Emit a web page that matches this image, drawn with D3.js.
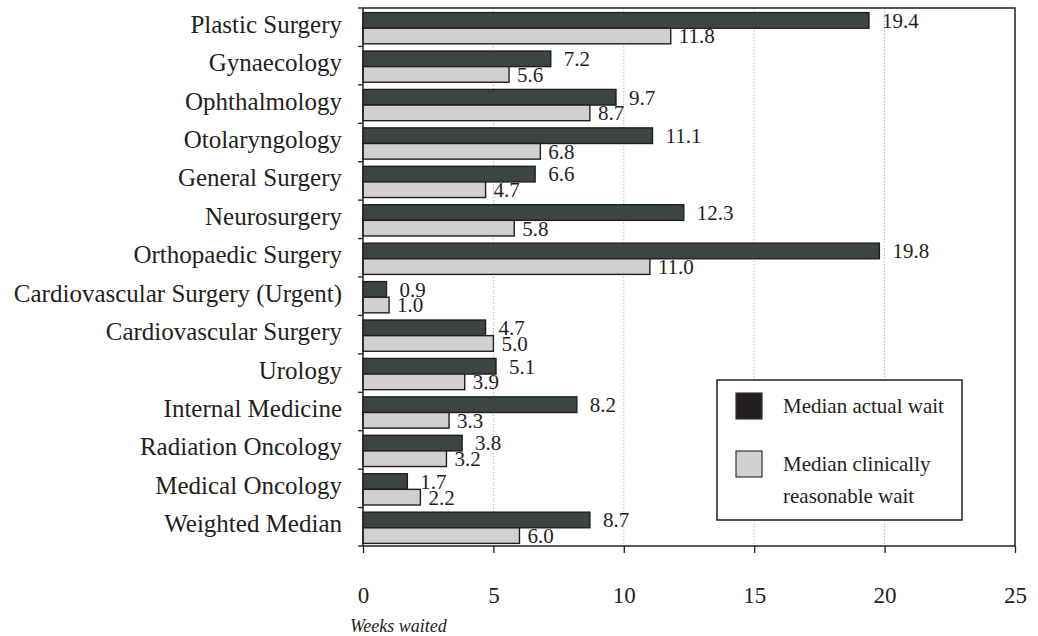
<!DOCTYPE html>
<html>
<head>
<meta charset="utf-8">
<script src="https://cdn.jsdelivr.net/npm/d3@7"></script>
<style>
    html, body { margin: 0; padding: 0; background: #fff; }
    #viz-wait-times { width: 1038px; height: 636px; }
    text { font-family: "Liberation Serif", "Times New Roman", serif; fill: #231f20; }
</style>
</head>
<body>
<div id="viz-wait-times"></div>
<script>
// Median wait by specialty, weeks (top to bottom)
const specialties = [
    'Plastic Surgery',
    'Gynaecology',
    'Ophthalmology',
    'Otolaryngology',
    'General Surgery',
    'Neurosurgery',
    'Orthopaedic Surgery',
    'Cardiovascular Surgery (Urgent)',
    'Cardiovascular Surgery',
    'Urology',
    'Internal Medicine',
    'Radiation Oncology',
    'Medical Oncology',
    'Weighted Median'
];
const actualWait = [19.4, 7.2, 9.7, 11.1, 6.6, 12.3, 19.8, 0.9, 4.7, 5.1, 8.2, 3.8, 1.7, 8.7];
const reasonableWait = [11.8, 5.6, 8.7, 6.8, 4.7, 5.8, 11.0, 1.0, 5.0, 3.9, 3.3, 3.2, 2.2, 6.0];
const xTicks = [0, 5, 10, 15, 20, 25];
const seriesLabels = ['Median actual wait', ['Median clinically', 'reasonable wait']];

function createWaitChart() {
    const container = d3.select('#viz-wait-times');
    container.selectAll('*').remove();

    const W = 1038, H = 636;
    const margin = { top: 8, right: 23, bottom: 90, left: 363 };
    const width = W - margin.left - margin.right;
    const height = H - margin.top - margin.bottom;

    const svg = container.append('svg')
        .attr('width', W)
        .attr('height', H);

    const g = svg.append('g')
        .attr('transform', `translate(${margin.left},${margin.top})`);

    const series = [
        { key: 'actual', values: actualWait, fill: '#3d4543', legendFill: '#231f20', dx: 13 },
        { key: 'reasonable', values: reasonableWait, fill: '#d0d0d0', legendFill: '#d0d0d0', dx: 8 }
    ];

    const xScale = d3.scaleLinear().domain([0, 25]).range([0, width]);
    const yScale = d3.scaleBand().domain(specialties).range([0, height]).padding(0);
    const ySub = d3.scaleBand()
        .domain(series.map(s => s.key))
        .range([4.6, yScale.bandwidth() - 2.6]);

    // dotted gridlines (behind bars)
    g.append('g')
        .selectAll('line')
        .data(xTicks.slice(1, -1))
        .enter()
        .append('line')
        .attr('x1', d => xScale(d)).attr('x2', d => xScale(d))
        .attr('y1', 0).attr('y2', height)
        .attr('stroke', '#a8a8a8')
        .attr('stroke-width', 1)
        .attr('stroke-dasharray', '1.2,2');

    // bars
    series.forEach(s => {
        g.append('g')
            .selectAll('rect')
            .data(specialties)
            .enter()
            .append('rect')
            .attr('x', 0)
            .attr('y', d => yScale(d) + ySub(s.key))
            .attr('width', (d, i) => xScale(s.values[i]))
            .attr('height', ySub.bandwidth())
            .attr('fill', s.fill)
            .attr('stroke', '#1f1f1f')
            .attr('stroke-width', 1.4);
    });

    // value labels
    series.forEach(s => {
        g.append('g')
            .selectAll('text')
            .data(specialties)
            .enter()
            .append('text')
            .attr('x', (d, i) => xScale(s.values[i]) + s.dx)
            .attr('y', d => yScale(d) + ySub(s.key) + ySub.bandwidth() / 2)
            .attr('dy', '0.35em')
            .style('font-size', '21px')
            .text((d, i) => d3.format('.1f')(s.values[i]));
    });

    // frame
    g.append('rect')
        .attr('width', width)
        .attr('height', height)
        .attr('fill', 'none')
        .attr('stroke', '#231f20')
        .attr('stroke-width', 1.5);

    // category axis
    const yAxis = g.append('g')
        .call(d3.axisLeft(yScale).tickSize(0).tickPadding(21));
    yAxis.select('.domain').remove();
    yAxis.selectAll('text')
        .attr('dy', '0.22em')
        .style('font-size', '25px')
        .style('font-family', '"Liberation Serif", serif')
        .style('fill', '#231f20');

    // band boundary ticks on the left
    g.append('g')
        .selectAll('line')
        .data(specialties.map(d => yScale(d)).concat([height]))
        .enter()
        .append('line')
        .attr('x1', -5).attr('x2', 0)
        .attr('y1', d => d).attr('y2', d => d)
        .attr('stroke', '#231f20')
        .attr('stroke-width', 1.3);

    // x axis
    const xAxis = g.append('g')
        .attr('transform', `translate(0,${height})`)
        .call(d3.axisBottom(xScale).tickValues(xTicks).tickSize(7).tickPadding(34).tickFormat(d3.format('d')));
    xAxis.select('.domain').remove();
    xAxis.selectAll('line').attr('stroke', '#231f20').attr('stroke-width', 1.3);
    xAxis.selectAll('text')
        .style('font-size', '23px')
        .style('font-family', '"Liberation Serif", serif')
        .style('fill', '#231f20');

    svg.append('text')
        .attr('x', 350)
        .attr('y', 632)
        .style('font-size', '18px')
        .style('font-style', 'italic')
        .text('Weeks waited');

    // legend
    const legend = svg.append('g').attr('transform', 'translate(717,380)');
    legend.append('rect')
        .attr('width', 245)
        .attr('height', 140)
        .attr('fill', '#fff')
        .attr('stroke', '#231f20')
        .attr('stroke-width', 1.5);

    series.forEach((s, i) => {
        const item = legend.append('g').attr('transform', `translate(19, ${13 + i * 58})`);
        item.append('rect')
            .attr('width', 26)
            .attr('height', 26)
            .attr('fill', s.legendFill)
            .attr('stroke', '#333')
            .attr('stroke-width', 1.2);
        const lines = [].concat(seriesLabels[i]);
        const txt = item.append('text')
            .attr('x', 47)
            .attr('y', 13)
            .style('font-size', '21px');
        lines.forEach((line, j) => {
            txt.append('tspan')
                .attr('x', 47)
                .attr('dy', j === 0 ? '0.35em' : '1.5em')
                .text(line);
        });
    });
}

createWaitChart();
</script>
</body>
</html>
